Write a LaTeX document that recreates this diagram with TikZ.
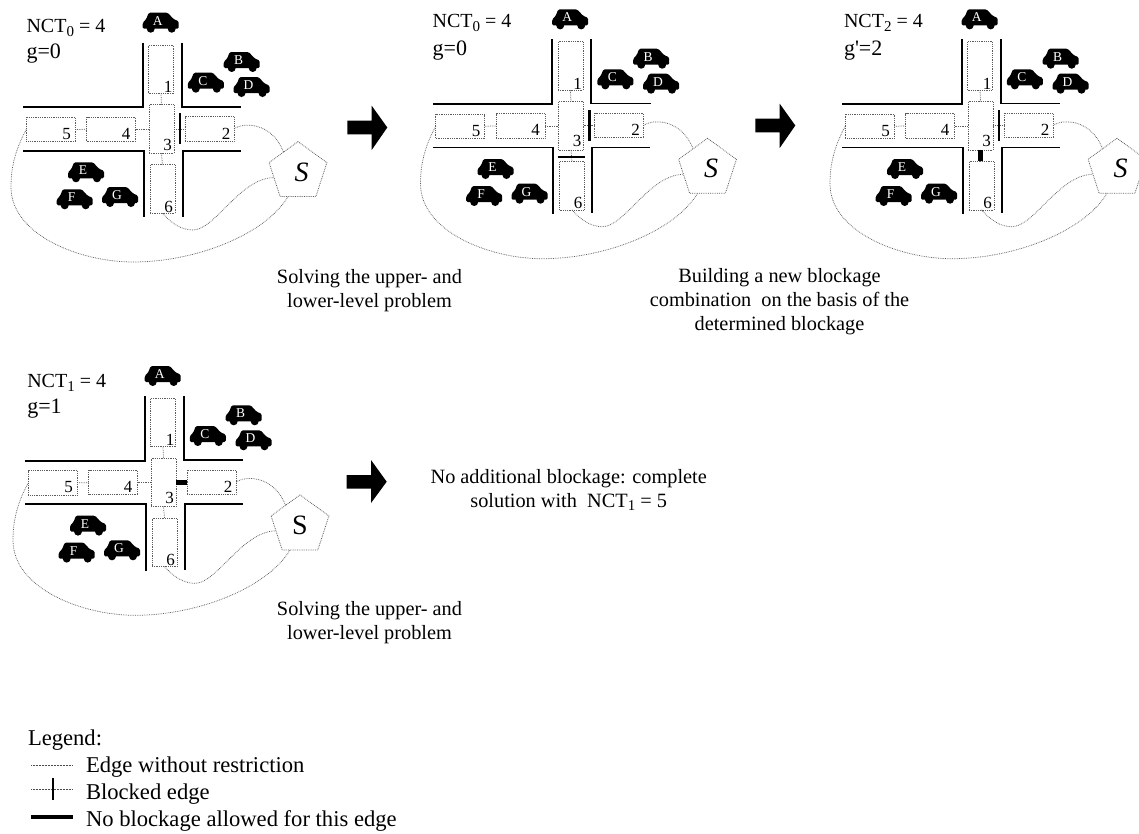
\documentclass[tikz,border=0pt]{standalone}
\usepackage{fontspec}
\setmainfont{Liberation Serif}
\usetikzlibrary{shapes.geometric}
\definecolor{edgegray}{gray}{0.36}
\tikzset{
  every node/.style={inner sep=0pt,outer sep=0pt},
  room/.style={draw=edgegray,densely dotted,line width=0.8pt,anchor=center},
  tallroom/.style={room,minimum width=25pt,minimum height=48.5pt},
  wideroom/.style={room,minimum width=49pt,minimum height=24.5pt},
  edgeline/.style={draw=edgegray,densely dotted,line width=0.75pt},
  thinline/.style={draw=black!70,line width=0.5pt,densely dotted},
  wall/.style={draw=black,line width=1.8pt},
  blocked/.style={draw=black,line width=2.1pt},
  noblock/.style={draw=black,line width=4.8pt},
  station/.style={draw=edgegray,densely dotted,line width=0.8pt,regular polygon,regular polygon sides=5,minimum size=60.8pt},
  num/.style={font=\fontsize{17}{17}\selectfont},
  carname/.style={text=white,font=\fontsize{13.5}{13.5}\selectfont},
  bodytext/.style={align=center,font=\fontsize{20.3}{24}\selectfont},
  headtext/.style={anchor=west,font=\fontsize{20}{24}\selectfont},
  gaptext/.style={anchor=west,font=\fontsize{22}{24}\selectfont},
  legendtext/.style={anchor=west,font=\fontsize{22.6}{24}\selectfont},
  bigarrow/.style={fill=black}
}
\newcommand{\carat}[4]{% prefix, letter, x, y
  \begin{scope}[shift={(#3,#4)}]
    \fill[rounded corners=1.4pt] (-18,6) -- (-18,0) -- (-14.5,-3.5) -- (-12,-10) -- (7,-10) -- (13,-3.5) -- (18,-1.5) -- (18,6) -- cycle;
    \fill (-10,6) circle (4);
    \fill (11,6) circle (4);
    \node[carname] (#1#2) at (-3,-2) {#2};
  \end{scope}}
\newcommand{\subs}[1]{\raisebox{-3.5pt}{\fontsize{15}{15}\selectfont #1}}
\newcommand{\panel}[5]{% prefix, dx, dy, S font, extras
  \begin{scope}[shift={(#2,#3)}]
    \draw[wall] (142.7,42.7) -- (142.7,107.3) -- (23.3,107.3);
    \draw[wall] (181.7,42.7) -- (181.7,106.7) -- (241,106.7);
    \draw[wall] (23.3,150.7) -- (143.7,150.7) -- (143.7,217.3);
    \draw[wall] (240.7,150.7) -- (182.7,150.7) -- (182.7,216.7);
    \carat{#1}{A}{160.7}{22.7}
    \carat{#1}{B}{241.7}{62}
    \carat{#1}{C}{205.8}{82.7}
    \carat{#1}{D}{251.5}{87}
    \carat{#1}{E}{86}{172.3}
    \carat{#1}{F}{74.7}{199.3}
    \carat{#1}{G}{120}{197}
    \node[tallroom] (#1r1) at (161,69.3) {};
    \node[tallroom] (#1r3) at (161.5,129) {};
    \node[tallroom] (#1r6) at (162.5,189) {};
    \node[wideroom] (#1r4) at (111,129.3) {};
    \node[wideroom] (#1r5) at (50.8,129.5) {};
    \node[wideroom] (#1r2) at (209.5,128.9) {};
    \node[num] (#1n1) at (168,87) {1};
    \node[num] (#1n3) at (167.5,144.5) {3};
    \node[num] (#1n6) at (168.7,206.7) {6};
    \node[num] (#1n5) at (66.7,134) {5};
    \node[num] (#1n4) at (126,133.5) {4};
    \node[num] (#1n2) at (226,133.5) {2};
    \node[station,font=\fontsize{28}{28}\selectfont] (#1S) at (298,172) {#4 S};
    \draw[edgeline] (#1r1.south) -- (#1r3.north);
    \draw[edgeline] (#1r3.south) -- (#1r6.north);
    \draw[edgeline] (#1r4.east) -- (#1r4.east -| #1r3.west);
    \draw[edgeline] (#1r5.east) -- (#1r4.west);
    \draw[edgeline] (#1r3.east |- #1r2.west) -- (#1r2.west);
    \draw[edgeline] (#1r2.east) .. controls (243,122) and (272,122) .. (#1S.126);
    \draw[edgeline] (#1r6.south) .. controls (172,224) and (182,230) .. (193,230) .. controls (215,230) and (240,178) .. (#1S.193);
    \draw[edgeline] (#1r5.west) .. controls (15,150) and (11,168) .. (11,187) .. controls (11,235) and (80,262) .. (133,262) .. controls (195,262) and (265,235) .. (#1S.248);
    #5
  \end{scope}}
\begin{document}
\begin{tikzpicture}[x=1pt,y=-1pt]
  \useasboundingbox (0,0) rectangle (1139,833);
  \panel{a}{0}{0}{\itshape}{\draw[blocked] (180,113.3) -- (180,144.3);}
  \panel{b}{409.5}{-3.3}{\itshape}{\draw[blocked] (180,113.3) -- (180,144.3);
     \draw[blocked] (148,160.5) -- (175.5,160.5);}
  \panel{c}{819}{-3.3}{\itshape}{\draw[blocked] (180,113.3) -- (180,144.3);
     \draw[noblock] (cr3.south) -- (cr3.south |- cr6.north);}
  \panel{d}{2}{353.3}{}{\draw[noblock] (dr3.east |- dr2.west) -- (dr2.west);}
  \node[headtext] (h1) at (26.5,28) {NCT\subs{0} = 4};
  \node[gaptext] (g1) at (26.5,54) {g=0};
  \node[headtext] (h2) at (432.7,23) {NCT\subs{0} = 4};
  \node[gaptext] (g2) at (432.7,51) {g=0};
  \node[headtext] (h3) at (844,23) {NCT\subs{2} = 4};
  \node[gaptext] (g3) at (844,51) {g\textquotesingle=2};
  \node[headtext] (h4) at (27.3,383) {NCT\subs{1} = 4};
  \node[gaptext] (g4) at (27.3,409) {g=1};
  \node[bodytext] (t1) at (369.5,291) {Solving the upper- and\\lower-level problem};
  \node[bodytext] (t2) at (779.5,302) {Building a new blockage\\combination\ \ on the basis of the\\determined blockage};
  \node[bodytext] (t3) at (369.5,623) {Solving the upper- and\\lower-level problem};
  \node[bodytext] (t4) at (568.7,490) {No additional blockage: complete\\solution with\ \ NCT\subs{1} = 5};
  \fill[bigarrow] (347.3,120.7) -- (371.7,120.7) -- (371.7,105.7) -- (387.3,127.5) -- (371.7,150) -- (371.7,134.3) -- (347.3,134.3) -- cycle;
  \fill[bigarrow] (755.3,118.7) -- (779.7,118.7) -- (779.7,103.7) -- (795.3,125.5) -- (779.7,148) -- (779.7,132.3) -- (755.3,132.3) -- cycle;
  \fill[bigarrow] (346.7,475) -- (371,475) -- (371,460) -- (386.7,481.7) -- (371,503) -- (371,488.5) -- (346.7,488.5) -- cycle;
  \node[legendtext] (lg) at (28,740) {Legend:};
  \node[legendtext] (l1) at (86,767) {Edge without restriction};
  \node[legendtext] (l2) at (86,794) {Blocked edge};
  \node[legendtext] (l3) at (86,821) {No blockage allowed for this edge};
  \coordinate (e1a) at (31,765); \coordinate (e1b) at (73,765);
  \coordinate (e2a) at (31,789); \coordinate (e2b) at (73,789);
  \coordinate (e2c) at (52.7,778); \coordinate (e2d) at (52.7,800);
  \coordinate (e3a) at (31,817); \coordinate (e3b) at (73,817);
  \draw[thinline] (e1a) -- (e1b);
  \draw[thinline] (e2a) -- (e2b);
  \draw[blocked] (e2c) -- (e2d);
  \draw[draw=black,line width=3.2pt] (e3a) -- (e3b);
\end{tikzpicture}
\end{document}
